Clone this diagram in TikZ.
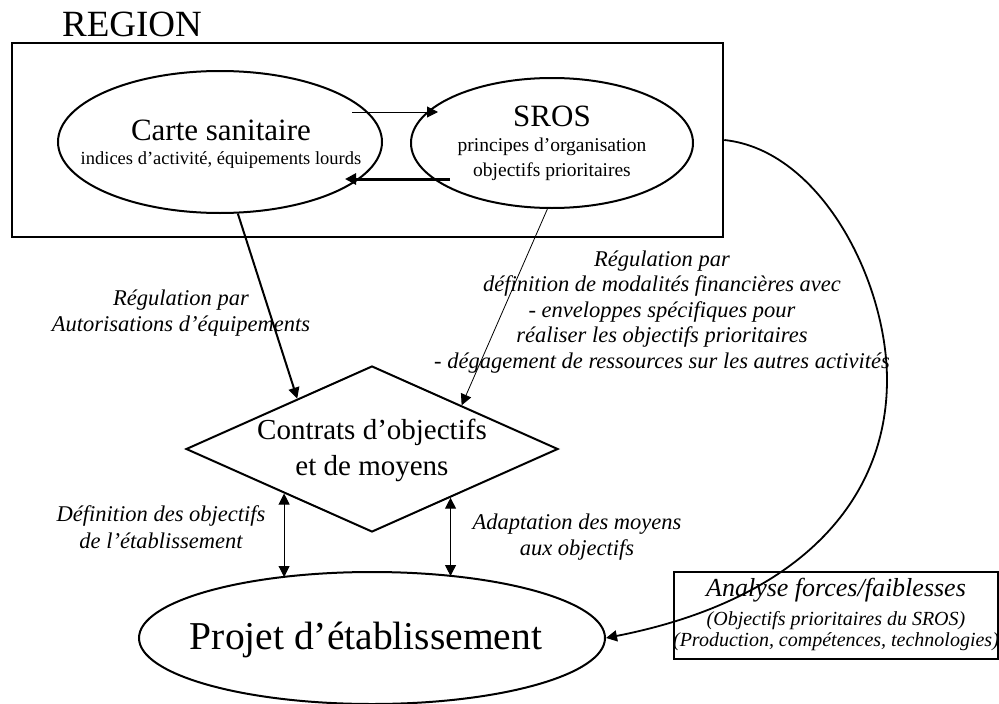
\documentclass[tikz,border=0pt]{standalone}
\usepackage{fontspec}
\setmainfont{Liberation Serif}
\usetikzlibrary{arrows.meta,shapes.geometric,calc}
\begin{document}
\begin{tikzpicture}[x=1pt,y=-1pt,
  tip/.style={-{Triangle[length=11pt,width=11pt]}},
  dtip/.style={{Triangle[length=11pt,width=11pt]}-{Triangle[length=11pt,width=11pt]}},
  oval/.style={draw, ellipse, line width=2pt, inner sep=0pt},
  txt/.style={align=center, inner sep=0pt},
  lab/.style={font=\fontsize{22.5}{26.5}\selectfont\itshape, align=center, inner sep=0pt}]
\useasboundingbox (0,0) rectangle (999,704);
% title
\node[txt, font=\fontsize{37}{40}\selectfont] (title) at (132,24) {REGION};
% region box
\node[draw, line width=2.5pt, minimum width=711pt, minimum height=194pt, inner sep=0pt] (region) at (367.5,140) {};
% Carte sanitaire
\node[oval, minimum width=324pt, minimum height=142pt] (carte) at (220,142) {};
\node[txt, font=\fontsize{18.5}{24}\selectfont] (cartetxt) at (221,144) {\fontsize{31}{24}\selectfont Carte sanitaire\\indices d’activité, équipements lourds};
% SROS
\node[oval, minimum width=282pt, minimum height=130pt] (sros) at (552,143) {};
\node[txt, font=\fontsize{19.5}{25}\selectfont] (srostxt) at (552,143) {\fontsize{31}{25}\selectfont SROS\\principes d’organisation\\objectifs prioritaires};
% arrows between ellipses
\coordinate (t1) at (352,112);
\coordinate (t2) at (438,112);
\draw[line width=1pt, tip] (t1) -- (t2);
\coordinate (b1) at (450,179);
\coordinate (b2) at (345,179);
\draw[line width=3pt, tip] (b1) -- (b2);
% diamond
\node[draw, diamond, line width=2pt, minimum width=372pt, minimum height=166pt, inner sep=0pt] (contrat) at (372,449) {};
\node[txt, font=\fontsize{29}{36}\selectfont] (contrattxt) at (372,450) {Contrats d’objectifs\\et de moyens};
% regulation arrows
\draw[line width=2pt, tip] (carte.-76.5) -- (contrat.146.7);
\draw[line width=0.8pt, tip] (sros.-94.4) -- (contrat.26.6);
% Projet
\node[oval, minimum width=466pt, minimum height=132pt] (projet) at (372,638) {};
\node[txt, font=\fontsize{39.5}{44}\selectfont] (projettxt) at (366,640) {Projet d’établissement};
% vertical double arrows
\coordinate (l1) at ($(contrat.south)!0.47!(contrat.west)$);
\coordinate (ltop) at (0,577);
\draw[line width=1pt, dtip] (l1) -- (l1 |- ltop);
\coordinate (r1) at ($(contrat.south)!0.42!(contrat.east)$);
\coordinate (rtop) at (0,576);
\draw[line width=1pt, dtip] (r1) -- (r1 |- rtop);
% Analyse box
\node[draw, line width=2pt, minimum width=324pt, minimum height=87pt, inner sep=0pt] (analyse) at (836,615.5) {};
\node[txt, font=\fontsize{20}{21}\selectfont\itshape] (analysetxt) at (836,614) {\fontsize{26}{21}\selectfont\itshape Analyse forces/faiblesses\\[8pt](Objectifs prioritaires du SROS)\\(Production, compétences, technologies)};
% curve
\coordinate (cv) at (887,380);
\draw[line width=1.8pt] (region.east) .. controls (820,150) and (887,280) .. (cv);
\draw[line width=1.8pt, tip] (cv) .. controls (887,500) and (800,600) .. (projet.east);
% labels
\node[lab] (lab1) at (181,313) {Régulation par\\Autorisations d’équipements};
\node[lab, font=\fontsize{22.5}{25.5}\selectfont\itshape] (lab2) at (662,312) {Régulation par\\définition de modalités financières avec\\- enveloppes spécifiques pour\\réaliser les objectifs prioritaires\\- dégagement de ressources sur les autres activités};
\node[lab] (lab4) at (161,527) {Définition des objectifs\\de l’établissement};
\node[lab] (lab5) at (577,537) {Adaptation des moyens\\aux objectifs};
\end{tikzpicture}
\end{document}
